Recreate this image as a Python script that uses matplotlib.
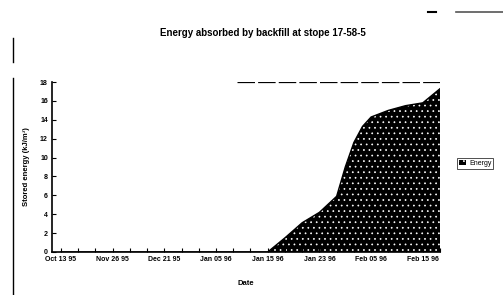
import numpy as np
import matplotlib
matplotlib.use("Agg")
import matplotlib.pyplot as plt
from matplotlib.lines import Line2D

plt.rcParams['font.family'] = ['Liberation Sans', 'DejaVu Sans']
plt.rcParams['hatch.linewidth'] = 0.5

# tick labels (every 3rd category)
date_labels = ["Oct 13 95", "Nov 26 95", "Dec 21 95", "Jan 05 96",
               "Jan 15 96", "Jan 23 96", "Feb 05 96", "Feb 15 96"]

# category position of each reading and the absorbed energy
pos = [0, 2, 4, 6, 8, 10, 12, 13, 14, 15, 16, 16.5, 17, 17.5, 18, 19, 20, 21, 22]
energy = [0, 0, 0, 0, 0, 0, 0, 1.5, 3.1, 4.2, 5.9, 9.0, 11.6, 13.3, 14.3,
          15.0, 15.5, 15.8, 17.3]

fig = plt.figure(figsize=(5.03, 2.95), dpi=100)
ax = fig.add_axes([0.1034, 0.1458, 0.7714, 0.576])

ax.fill_between(pos, energy, 0, facecolor='black', edgecolor='white',
                hatch='...', linewidth=0, label='Energy')
ax.plot(pos, energy, color='black', lw=1.0)

ax.set_xlim(-0.52, 22)
ax.set_ylim(0, 18)
ax.set_xticks(np.arange(0, 22, 3))
ax.set_xticklabels(date_labels)
ax.set_xticks(np.arange(0, 23, 1), minor=True)
ax.set_yticks(np.arange(0, 19, 2))

ax.tick_params(axis='both', which='both', direction='in', length=3,
               width=0.8, labelsize=5, pad=3)
for lab in ax.get_xticklabels() + ax.get_yticklabels():
    lab.set_fontweight('bold')

for s in ['top', 'right']:
    ax.spines[s].set_visible(False)
ax.spines['left'].set_linewidth(1.2)
ax.spines['bottom'].set_linewidth(1.2)

# broken top line left by the scan
ax.axhline(18, xmin=0.477, xmax=1.0, color='black', lw=0.9,
           ls=(0, (14, 2.5)))

ax.set_xlabel("Date", fontsize=5.5, fontweight='bold', labelpad=12)
ax.set_ylabel("Stored energy (kJ/m³)", fontsize=5.5, fontweight='bold',
              labelpad=7)
fig.text(0.523, 0.888, "Energy absorbed by backfill at stope 17-58-5",
         ha='center', va='center', fontsize=7, fontweight='bold')

leg = ax.legend(loc='center left', bbox_to_anchor=(1.035, 0.52),
                fontsize=5, frameon=True, fancybox=False,
                handlelength=1.0, borderpad=0.3, handletextpad=0.4)
leg.get_frame().set_edgecolor('black')
leg.get_frame().set_linewidth(0.6)

# page frame lines
fig.add_artist(Line2D([13/503, 13/503], [0, 1 - 78/295], color='black', lw=1))
fig.add_artist(Line2D([13/503, 13/503], [1 - 38/295, 1 - 62/295], color='black', lw=1))
fig.add_artist(Line2D([456/503, 1], [1 - 12/295, 1 - 12/295], color='#555555', lw=1.2))
fig.add_artist(Line2D([428/503, 436/503], [1 - 12/295, 1 - 12/295], color='black', lw=1.5))

fig.savefig("out.png", dpi=100)
